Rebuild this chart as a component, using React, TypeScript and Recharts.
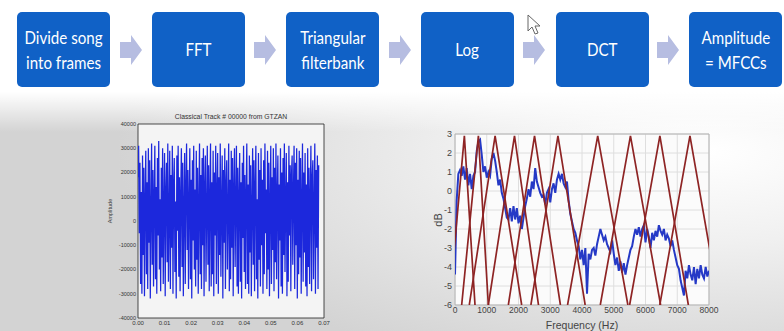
import { LineChart, Line, XAxis, YAxis, CartesianGrid, ReferenceArea } from 'recharts';

// --- flow diagram ---
const steps = ['Divide song\ninto frames', 'FFT', 'Triangular\nfilterbank', 'Log', 'DCT', 'Amplitude\n= MFCCs'];
const stepLeft = [17, 152, 286, 421, 556, 689];
const arrowLeft = [120, 254, 389, 523, 657];

// --- waveform (left) ---
const waveTitle = 'Classical Track # 00000 from GTZAN';
const waveEnd = 0.068; // last sample time, s
const waveTicksX = [0, 0.01, 0.02, 0.03, 0.04, 0.05, 0.06, 0.07];
const waveTicksY = [-40, -30, -20, -10, 0, 10, 20, 30, 40]; // thousands
// amplitude in thousands
const waveK = [
  18, 31, -5, 24, -26, 12, -30, 27, -14, 22, -31, 8, 29, -22, 16, -28, 30, -9, 25, -32,
  4, 32, -18, 21, -27, 10, 31, -24, 14, -30, 26, -6, 33, -20, 9, -29, 22, -15, 30, -26,
  6, 28, -31, 12, 24, -17, 32, -25, 3, 29, -28, 19, -11, 31, -30, 15, 26, -21, 8, -32,
  27, -4, 31, -23, 18, -29, 11, 30, -19, 24, -31, 5, 28, -26, 14, 32, -12, 21, -28, 9,
  30, -24, 17, -32, 25, -8, 31, -20, 13, -27, 29, -16, 22, -30, 7, 32, -22, 19, -28, 26,
  -10, 30, -31, 14, 27, -25, 4, 31, -18, 23, -29, 10, 32, -27, 16, -22, 29, -31, 20, -6,
  31, -26, 12, 28, -30, 18, -14, 32, -23, 6, 27, -32, 21, -9, 30, -28, 15, 25, -20, 3,
  32, -29, 17, -24, 29, -11, 26, -31, 13, 30, -19, 8, 31, -27, 22, -30, 10, 28, -25, 16,
  -32, 24, -7, 31, -21, 19, -28, 11, 32, -26, 15, -30, 27, -13, 23, -31, 6, 30, -18, 25,
  -29, 14, 31, -24, 9, -32, 28, -16, 21, -27, 30, -10, 17, -30, 25, -22, 32, -5, 13, -28,
  29, -20, 24, -31, 7, 31, -26, 18, -12, 30, -29, 22, -17, 32, -24, 11, 27, -32, 15, -8,
  30, -27, 20, -30, 26, -14, 32, -21, 9, 28, -31, 16, -25, 31, -6, 23, -29, 19, 27, -18,
  12, 31, -28, 24, -10, 30, -32, 17, -22, 29, -15, 26, -30, 8, 32, -25, 20, -13, 28, -27,
  15, -31, 30, -19, 22, -26, 10, 31, -29, 18, 25, -24, 6, 32, -30, 21, -11, 27, -28, 23,
];

// --- spectrum + mel filterbank (right) ---
const freqMax = 8000;
const freqTicks = [0, 1000, 2000, 3000, 4000, 5000, 6000, 7000, 8000];
const dbTicks = [-6, -5, -4, -3, -2, -1, 0, 1, 2, 3];
// dB, evenly spaced from 0 to 8000 Hz
const specDb = [
  -4.4, -0.5, 0.9, 1.1, 0.8, 1.3, 0.6, 1.2, 0.3, 0.9, 0.1, 0.8, 1.0, 2.1, 2.6, 2.7, 1.9, 1.0, 1.3, 0.7,
  1.0, 0.8, 1.7, 2.0, 1.6, 1.0, 0.3, 0.6, -0.1, -0.4, -0.9, -1.4, -1.5, -0.9, -1.6, -0.8, -1.5, -0.9, -1.7, -1.3,
  -2.0, -1.4, -0.8, -0.4, 0.1, -0.3, 0.5, 0.1, 1.2, 0.5, 0.2, -0.1, -0.3, -0.2, -0.7, -0.1, 0.1, -0.6, 0.1, 0.4,
  -0.1, 0.6, 0.9, 0.6, 0.9, 0.4, 0.2, 0.5, -0.5, -1.2, -1.6, -2.0, -2.2, -2.6, -2.9, -3.6, -3.1, -3.9, -3.0, -5.4,
  -3.3, -3.6, -3.1, -3.0, -3.4, -2.8, -2.4, -2.0, -2.3, -2.6, -2.4, -2.8, -3.0, -3.2, -2.6, -3.3, -3.9, -3.5, -4.2, -3.7,
  -4.3, -3.8, -4.4, -3.9, -3.5, -3.1, -2.9, -2.4, -2.0, -2.3, -1.9, -2.4, -2.0, -1.8, -2.7, -2.0, -2.4, -3.0, -2.2, -2.6,
  -2.1, -2.4, -1.8, -2.1, -2.3, -2.0, -2.6, -2.3, -2.5, -2.9, -2.6, -3.1, -3.5, -3.9, -4.1, -4.7, -5.1, -5.5, -4.2, -4.6,
  -3.9, -4.4, -4.7, -4.0, -4.9, -4.1, -4.6, -3.9, -4.4, -4.6, -4.0, -4.5, -4.2,
];
const filterLeft = [-180, 210, 450, 1050, 1680, 2390, 3545, 4576, 5500, 6450];
const filterPeak = [295, 737, 1263, 1874, 2505, 3242, 4495, 5526, 6453, 7400];
const filterRight = [630, 1050, 2100, 2630, 3320, 4100, 5445, 6476, 7350, 8330];
const filterTop = 2.9;
const filterFloor = -6;

const waveData = waveK.map((v, i) => ({ t: (i * waveEnd) / (waveK.length - 1), v }));
const specData = specDb.map((db, i) => ({ f: (i * freqMax) / (specDb.length - 1), db }));
const filterData = filterPeak.map((p, i) => [
  { f: filterLeft[i], db: filterFloor },
  { f: p, db: filterTop },
  { f: filterRight[i], db: filterFloor },
]);

const chartFont = "'Liberation Sans', Arial, sans-serif";

function FlowArrow({ left }: { left: number }) {
  return (
    <svg style={{ position: 'absolute', left, top: 33 }} width={23} height={34}>
      <polygon points="0,9 11,9 11,2 22,17 11,32 11,25 0,25" fill="#b6bde1" />
    </svg>
  );
}

function WaveformChart() {
  return (
    <div style={{ position: 'absolute', left: 100, top: 100, width: 240, height: 231 }}>
      <div style={{ position: 'absolute', left: 38, width: 186, top: 13, textAlign: 'center', fontFamily: chartFont, fontSize: 6.8, color: '#333' }}>
        {waveTitle}
      </div>
      <div style={{ position: 'absolute', left: 10, top: 111, transform: 'translate(-50%, -50%) rotate(-90deg)', fontFamily: chartFont, fontSize: 5.5, color: '#444', whiteSpace: 'nowrap' }}>
        Amplitude
      </div>
      <LineChart width={240} height={231} data={waveData} margin={{ top: 24, right: 16, bottom: 0, left: 0 }}>
        <CartesianGrid horizontal={false} vertical={false} fill="#f4f4f4" />
        <XAxis
          dataKey="t"
          type="number"
          domain={[0, 0.07]}
          ticks={waveTicksX}
          interval={0}
          tickFormatter={(v: number) => v.toFixed(2)}
          height={13}
          tickSize={0}
          tickMargin={3}
          axisLine={false}
          tick={{ fontSize: 6, fill: '#333', fontFamily: chartFont }}
          allowDataOverflow
        />
        <YAxis
          type="number"
          domain={[-40, 40]}
          ticks={waveTicksY}
          interval={0}
          tickFormatter={(v: number) => String(v * 1000)}
          width={38}
          tickSize={0}
          tickMargin={2}
          axisLine={false}
          tick={{ fontSize: 5.5, fill: '#333', fontFamily: chartFont }}
          allowDataOverflow
        />
        <ReferenceArea x1={0} x2={0.07} y1={-40} y2={40} fill="none" stroke="#222" strokeWidth={0.8} />
        <Line dataKey="v" stroke="#1c28dc" strokeWidth={1.25} dot={false} activeDot={false} isAnimationActive={false} />
      </LineChart>
    </div>
  );
}

function SpectrumChart() {
  return (
    <div style={{ position: 'absolute', left: 400, top: 110, width: 320, height: 221 }}>
      <div style={{ position: 'absolute', left: 38, top: 110, transform: 'translate(-50%, -50%) rotate(-90deg)', fontFamily: chartFont, fontSize: 11, color: '#444' }}>
        dB
      </div>
      <LineChart width={320} height={221} margin={{ top: 24, right: 11, bottom: 0, left: 0 }}>
        <CartesianGrid stroke="#dedede" fill="#fbfbfb" />
        <XAxis
          dataKey="f"
          type="number"
          domain={[0, freqMax]}
          ticks={freqTicks}
          interval={0}
          height={26}
          tickSize={0}
          tickMargin={2}
          axisLine={false}
          tick={{ fontSize: 8.5, fill: '#444', fontFamily: chartFont }}
          label={{ value: 'Frequency (Hz)', position: 'insideBottom', offset: 2, fontSize: 10.5, fill: '#444', fontFamily: chartFont }}
          allowDataOverflow
        />
        <YAxis
          type="number"
          domain={[-6, 3]}
          ticks={dbTicks}
          interval={0}
          width={55}
          tickSize={0}
          tickMargin={3}
          axisLine={false}
          tick={{ fontSize: 9, fill: '#444', fontFamily: chartFont }}
          allowDataOverflow
        />
        <ReferenceArea x1={0} x2={freqMax} y1={-6} y2={3} fill="none" stroke="#b4b4b4" strokeWidth={1} />
        <Line data={specData} dataKey="db" stroke="#2539c6" strokeWidth={2} dot={false} activeDot={false} isAnimationActive={false} />
        {filterData.map((d, i) => (
          <Line key={`filter-${i}`} data={d} dataKey="db" stroke="#8e2424" strokeWidth={1.7} dot={false} activeDot={false} isAnimationActive={false} />
        ))}
      </LineChart>
    </div>
  );
}

export default function App() {
  return (
    <div style={{ position: 'absolute', left: 0, top: 0, width: 784, height: 331, overflow: 'hidden', background: '#fff', fontFamily: 'Lato, sans-serif' }}>
      <div
        style={{
          position: 'absolute', left: 0, top: 92, width: 784, height: 239,
          background: 'linear-gradient(to bottom, #ffffff 0px, rgba(255,255,255,0) 40px), radial-gradient(ellipse 75% 95% at 90% 25%, #ffffff 0%, #f0f0f0 40%, #d3d3d3 100%)',
        }}
      />
      {steps.map((s, i) => (
        <div
          key={s}
          style={{
            position: 'absolute', left: stepLeft[i], top: 12, width: 93, height: 75, borderRadius: 5,
            background: '#1061c6', color: '#fff', display: 'flex', alignItems: 'center', justifyContent: 'center',
            textAlign: 'center', fontSize: 18, lineHeight: '25px', whiteSpace: 'pre',
          }}
        >
          <span style={{ display: 'inline-block', transform: 'scaleX(0.84)' }}>{s}</span>
        </div>
      ))}
      {arrowLeft.map((x) => (
        <FlowArrow key={x} left={x} />
      ))}
      <svg style={{ position: 'absolute', left: 527, top: 14 }} width={14} height={22}>
        <polygon points="1,1 1,17 5,13 8,20 11,19 8,12 13,12" fill="#fff" stroke="#666" strokeWidth={1} />
      </svg>
      <WaveformChart />
      <SpectrumChart />
    </div>
  );
}
